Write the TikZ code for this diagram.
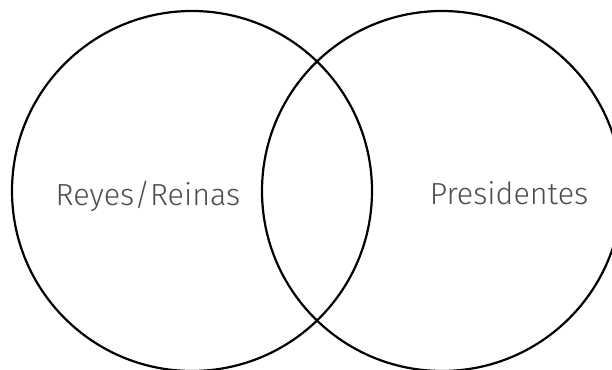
\documentclass[tikz,border=0pt]{standalone}
\usepackage{fontspec}
\setmainfont{Fira Sans Light}
\usepackage{xcolor}
\usepackage{tikz}
\usetikzlibrary{positioning, shapes.geometric}
\definecolor{labelgray}{HTML}{4D4D4D}
\tikzset{
  setcircle/.style={
    circle, draw=black, line width=2.2pt,
    minimum size=360pt, inner sep=0pt
  },
  setlabel/.style={
    font=\fontsize{30.5}{32}\selectfont, text=labelgray,
    inner sep=0pt, anchor=base
  }
}
\begin{document}
\begin{tikzpicture}[x=1pt, y=-1pt]

%% Page frame
\useasboundingbox (0,0) rectangle (612,369);
\clip (0,0) rectangle (612,369);

%% Sets
\node[setcircle] (reyes) at (192,191) {};
\node[setcircle] (pres) at (442,191) {};

%% Labels
\node[setlabel] (reyeslbl) at (148,205) {Reyes/Reinas};
\node[setlabel] (preslbl) at (509,204) {Presidentes};

\end{tikzpicture}
\end{document}
